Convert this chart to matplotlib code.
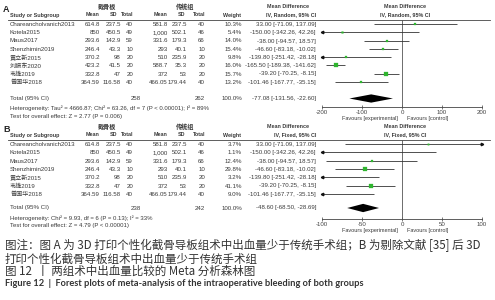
# forest plots (meta-analysis of intraoperative bleeding), two panels
import numpy as np
import matplotlib
matplotlib.use('Agg')
import matplotlib.pyplot as plt

plt.rcParams['font.family'] = ['Liberation Sans', 'Noto Sans CJK SC']
plt.rcParams['axes.unicode_minus'] = False

# ---- data, panel A (random effects) ----
studies_a = ['Chareancholvanich2013', 'Kotela2015', 'Maus2017', 'Shenzhimin2019',
             '黄立新2015', '刘振东2020', '韦雄2019', '曾国华2018']
exp_mean_a = ['614.8', '850', '293.6', '246.4', '370.2', '423.2', '332.8', '364.59']
exp_sd_a = ['237.5', '450.5', '142.9', '43.3', '98', '41.5', '47', '116.58']
exp_n_a = [40, 49, 59, 10, 20, 20, 20, 40]
ctl_mean_a = ['581.8', '1,000', '331.6', '293', '510', '588.7', '372', '466.05']
ctl_sd_a = ['237.5', '502.1', '179.3', '40.1', '235.9', '35.3', '53', '179.44']
ctl_n_a = [40, 46, 66, 10, 20, 20, 20, 40]
weight_a = [10.3, 5.4, 14.0, 15.4, 9.8, 16.0, 15.7, 13.2]
md_a = [33.00, -150.00, -38.00, -46.60, -139.80, -165.50, -39.20, -101.46]
lo_a = [-71.09, -342.26, -94.57, -83.18, -251.42, -189.38, -70.25, -167.77]
hi_a = [137.09, 42.26, 18.57, -10.02, -28.18, -141.62, -8.15, -35.15]
total_a = (258, 262, -77.08, -131.56, -22.60)
het_a = 'Heterogeneity: Tau² = 4666.87; Chi² = 63.26, df = 7 (P < 0.00001); I² = 89%'
test_a = 'Test for overall effect: Z = 2.77 (P = 0.006)'
ticks_a = [-200, -100, 0, 100, 200]

# ---- data, panel B (fixed effect, study 6 of A removed) ----
keep_b = [0, 1, 2, 3, 4, 6, 7]
weight_b = [3.7, 1.1, 12.4, 29.8, 3.2, 41.1, 9.0]
total_b = (238, 242, -48.60, -68.50, -28.69)
het_b = 'Heterogeneity: Chi² = 9.93, df = 6 (P = 0.13); I² = 33%'
test_b = 'Test for overall effect: Z = 4.79 (P < 0.00001)'
ticks_b = [-100, -50, 0, 50, 100]

caption1 = '图注：图 A 为 3D 打印个性化截骨导板组术中出血量少于传统手术组；B 为剔除文献 [35] 后 3D'
caption2 = '打印个性化截骨导板组术中出血量少于传统手术组'
caption3 = '图 12  丨 两组术中出血量比较的 Meta 分析森林图'
caption4 = 'Figure 12  |  Forest plots of meta-analysis of the intraoperative bleeding of both groups'

W, H = 495, 300
fig = plt.figure(figsize=(W / 100, H / 100), dpi=100)
fig.patch.set_facecolor('white')

# background axes in pixel units for the table text
bg = fig.add_axes([0, 0, 1, 1])
bg.set_xlim(0, W)
bg.set_ylim(H, 0)
bg.axis('off')

TXT = '#3a3a3a'
FS = 4.4
HFS = 3.9
GREEN = '#2fb52f'


def panel(letter, top, row0, step, names, em, esd, en, cm, csd, cn, w, md, lo, hi,
          tot, het, test, ticks, xlim, model, tot_y, axis_y):
    # headers
    bg.text(3, top + 3, letter, fontsize=6.5, fontweight='bold', color='#222', va='center')
    bg.text(107, top, '截骨板', fontsize=4.4, fontweight='bold', color=TXT, ha='center', va='center')
    bg.text(185, top, '传统组', fontsize=4.4, fontweight='bold', color=TXT, ha='center', va='center')
    hy = top + 8
    hdr = dict(fontsize=HFS, fontweight='bold', color=TXT, va='center')
    bg.text(10, hy, 'Study or Subgroup', ha='left', **hdr)
    for x, s in [(100, 'Mean'), (117, 'SD'), (133, 'Total'), (167, 'Mean'),
                 (185, 'SD'), (205, 'Total'), (241, 'Weight')]:
        bg.text(x, hy, s, ha='right', **hdr)
    bg.text(288, top, 'Mean Difference', ha='center', **hdr)
    bg.text(316, hy, 'IV, %s, 95%% CI' % model, ha='right', **hdr)
    bg.text(405, top, 'Mean Difference', ha='center', **hdr)
    bg.text(405, hy, 'IV, %s, 95%% CI' % model, ha='center', **hdr)
    line_y = top + 13
    bg.axhline(line_y, xmin=8 / W, xmax=490 / W, color='#444', lw=0.6)

    # study rows
    cell = dict(fontsize=FS, color=TXT, va='center')
    for i in range(len(names)):
        y = row0 + step * i + 0.5
        bg.text(10, y, names[i], ha='left', **cell)
        for x, s in [(100, em[i]), (121, esd[i]), (133, en[i]), (168, cm[i]),
                     (187, csd[i]), (205, cn[i]), (242, '%.1f%%' % w[i]),
                     (316, '%.2f [%.2f, %.2f]' % (md[i], lo[i], hi[i]))]:
            bg.text(x, y, str(s), ha='right', **cell)

    bg.text(10, tot_y, 'Total (95% CI)', ha='left', **cell)
    bg.text(141, tot_y, str(tot[0]), ha='right', **cell)
    bg.text(205, tot_y, str(tot[1]), ha='right', **cell)
    bg.text(242, tot_y, '100.0%', ha='right', **cell)
    bg.text(316, tot_y, '%.2f [%.2f, %.2f]' % (tot[2], tot[3], tot[4]), ha='right', **cell)
    bg.text(10, tot_y + 10, het, ha='left', fontsize=4.3, color=TXT, va='center')
    bg.text(10, tot_y + 18, test, ha='left', fontsize=4.3, color=TXT, va='center')

    # forest axes
    x0, x1 = 322, 482
    ax = fig.add_axes([x0 / W, 1 - axis_y / H, (x1 - x0) / W, (axis_y - line_y) / H])
    ax.set_xlim(*xlim)
    ax.set_ylim((axis_y - row0) / step, (line_y - row0) / step)
    for sp in ['top', 'left', 'right']:
        ax.spines[sp].set_visible(False)
    ax.spines['bottom'].set_color('#444')
    ax.spines['bottom'].set_linewidth(0.6)
    ax.set_yticks([])
    ax.set_xticks(ticks)
    ax.tick_params(axis='x', direction='inout', length=2.5, width=0.5, pad=1,
                   labelsize=FS, colors='#444')
    ax.axvline(0, color='#555', lw=0.6)
    ax.patch.set_alpha(0)

    for i in range(len(names)):
        a, b = max(lo[i], xlim[0]), min(hi[i], xlim[1])
        ax.plot([a, b], [i, i], color='#333', lw=0.6, solid_capstyle='butt')
        if lo[i] < xlim[0]:
            ax.plot(xlim[0], i, marker='<', ms=1.8, color='#111', clip_on=False)
        if hi[i] > xlim[1]:
            ax.plot(xlim[1], i, marker='>', ms=1.8, color='#111', clip_on=False)
        if xlim[0] <= md[i] <= xlim[1]:
            ax.plot(md[i], i, marker='s', ms=0.55 * np.sqrt(w[i]), color=GREEN, mec=GREEN,
                    mew=0.2)

    dy = (tot_y - row0) / step
    ax.fill([tot[3], tot[2], tot[4], tot[2]], [dy, dy - 0.5, dy, dy + 0.5],
            color='black', lw=0)

    fy = axis_y + 11.5
    bg.text(398, fy, 'Favours [experimental]', ha='right', va='center', fontsize=4.0, color=TXT)
    bg.text(407, fy, 'Favours [control]', ha='left', va='center', fontsize=4.0, color=TXT)


panel('A', 7, 24, 8.25, studies_a, exp_mean_a, exp_sd_a, exp_n_a, ctl_mean_a, ctl_sd_a,
      ctl_n_a, weight_a, md_a, lo_a, hi_a, total_a, het_a, test_a, ticks_a, (-200, 200),
      'Random', 98.5, 107)

pick = lambda lst: [lst[k] for k in keep_b]
panel('B', 127, 144, 8.3, pick(studies_a), pick(exp_mean_a), pick(exp_sd_a), pick(exp_n_a),
      pick(ctl_mean_a), pick(ctl_sd_a), pick(ctl_n_a), weight_b, pick(md_a), pick(lo_a),
      pick(hi_a), total_b, het_b, test_b, ticks_b, (-100, 100), 'Fixed', 208, 219)

# captions
CAP = '#333333'
cj = ['Noto Sans CJK SC', 'DejaVu Sans']
bg.text(5, 245, caption1, fontsize=8.3, color=CAP, family=cj, va='center', ha='left')
bg.text(5, 259.5, caption2, fontsize=8.3, color=CAP, family=cj, va='center', ha='left')
bg.text(5, 271.5, caption3, fontsize=8.3, color=CAP, family=cj, va='center', ha='left')
bg.text(5, 283, caption4, fontsize=6.7, color=CAP, family=['Lato', 'DejaVu Sans'],
        fontweight='bold', va='center', ha='left')

fig.savefig('out.png', dpi=100)
